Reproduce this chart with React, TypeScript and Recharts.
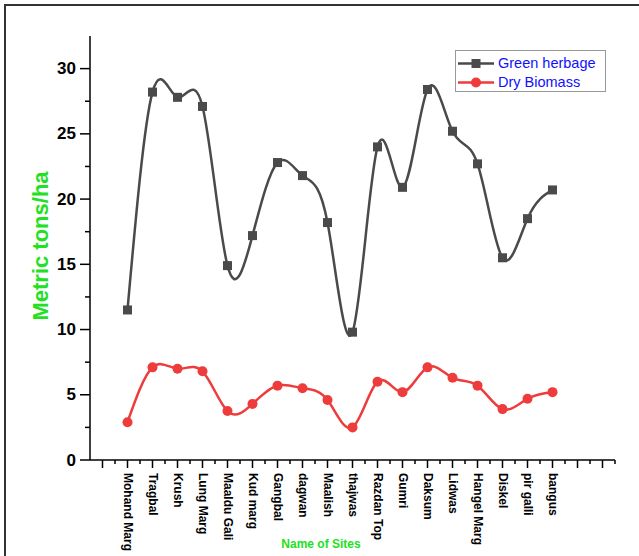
import React from 'react';
import { LineChart, Line, XAxis, YAxis, Legend } from 'recharts';

const sites = [
  'Mohand Marg', 'Tragbal', 'Krush', 'Lung Marg', 'Maaldu Gali', 'Kud marg',
  'Gangbal', 'dagwan', 'Maalish', 'thajwas', 'Razdan Top', 'Gumri', 'Daksum',
  'Lidwas', 'Hangel Marg', 'Diskel', 'pir galli', 'bangus',
];
const greenHerbage = [11.5, 28.2, 27.8, 27.1, 14.9, 17.2, 22.8, 21.8, 18.2, 9.8, 24.0, 20.9, 28.4, 25.2, 22.7, 15.5, 18.5, 20.7];
const dryBiomass = [2.9, 7.1, 7.0, 6.8, 3.75, 4.3, 5.7, 5.5, 4.6, 2.5, 6.0, 5.2, 7.1, 6.3, 5.7, 3.9, 4.7, 5.2];
const yTicks = [0, 2.5, 5, 7.5, 10, 12.5, 15, 17.5, 20, 22.5, 25, 27.5, 30];
const xTickList = [-1, -0.5, 0, 0.5, 1, 1.5, 2, 2.5, 3, 3.5, 4, 4.5, 5, 5.5, 6, 6.5, 7, 7.5, 8, 8.5, 9, 9.5, 10, 10.5, 11, 11.5, 12, 12.5, 13, 13.5, 14, 14.5, 15, 15.5, 16, 16.5, 17, 17.5, 18, 18.5, 19, 19.5];

const data = sites.map((s, i) => ({ idx: i, site: s, green: greenHerbage[i], dry: dryBiomass[i] }));

const FONT = '"Liberation Sans", Arial, sans-serif';
const GRAY = '#4a4a4a';
const RED = '#ee3b3b';
const BLUE = '#1010ff';
const LABEL_GREEN = '#22e022';

const XTick = (props: any) => {
  const { x, y, payload } = props;
  const v = payload.value;
  const major = Number.isInteger(v);
  const len = major ? 8 : 4;
  const label = major && v >= 0 && v < sites.length ? sites[v] : null;
  const ty = y + 13;
  return (
    <g>
      <line x1={x} y1={y} x2={x} y2={y + len} stroke="#000" strokeWidth={1.5} />
      {label && (
        <text
          x={x}
          y={ty}
          transform={`rotate(90, ${x}, ${ty})`}
          dominantBaseline="central"
          textAnchor="start"
          fontSize={12}
          fontWeight="bold"
          fontFamily={FONT}
          fill="#000"
        >
          {label}
        </text>
      )}
    </g>
  );
};

const YTick = (props: any) => {
  const { x, y, payload } = props;
  const v = payload.value;
  const major = v % 5 === 0;
  const len = major ? 10 : 5;
  return (
    <g>
      <line x1={x - len} y1={y} x2={x} y2={y} stroke="#000" strokeWidth={1.5} />
      {major && (
        <text
          x={x - 14}
          y={y}
          textAnchor="end"
          dominantBaseline="central"
          fontSize={17}
          fontWeight="bold"
          fontFamily={FONT}
          fill="#000"
        >
          {v}
        </text>
      )}
    </g>
  );
};

const SquareDot = (props: any) => {
  const { cx, cy, index } = props;
  return <rect key={`sq-${index}`} x={cx - 4.5} y={cy - 4.5} width={9} height={9} fill={GRAY} />;
};

const CircleDot = (props: any) => {
  const { cx, cy, index } = props;
  return <circle key={`ci-${index}`} cx={cx} cy={cy} r={5} fill={RED} />;
};

const LegendBox = () => {
  const rows = [
    { name: 'Green herbage', color: GRAY, shape: 'square' },
    { name: 'Dry Biomass', color: RED, shape: 'circle' },
  ];
  return (
    <div
      style={{
        width: 149,
        height: 40,
        border: '1px solid #999',
        background: '#fff',
        position: 'relative',
        fontFamily: FONT,
      }}
    >
      {rows.map((r, i) => (
        <div key={r.name} style={{ position: 'absolute', left: 0, top: 3 + i * 19, height: 19, width: 149 }}>
          <svg width={40} height={19} style={{ position: 'absolute', left: 0, top: 0 }}>
            <line x1={2} y1={9.5} x2={38} y2={9.5} stroke={r.color} strokeWidth={2.5} />
            {r.shape === 'square' ? (
              <rect x={15.5} y={5} width={9} height={9} fill={r.color} />
            ) : (
              <circle cx={20} cy={9.5} r={5} fill={r.color} />
            )}
          </svg>
          <span
            style={{
              position: 'absolute',
              left: 42,
              top: 0,
              lineHeight: '19px',
              fontSize: 14.5,
              color: BLUE,
              whiteSpace: 'nowrap',
            }}
          >
            {r.name}
          </span>
        </div>
      ))}
    </div>
  );
};

const YLabel = (props: any) => {
  const vb = props.viewBox || {};
  const cx = (vb.x || 0) + 40;
  const cy = (vb.y || 0) + (vb.height || 0) / 2 - 2;
  return (
    <text
      x={cx}
      y={cy}
      transform={`rotate(-90, ${cx}, ${cy})`}
      textAnchor="middle"
      dominantBaseline="central"
      fontSize={22}
      fontWeight="bold"
      fontFamily={FONT}
      fill={LABEL_GREEN}
    >
      Metric tons/ha
    </text>
  );
};

const XLabel = (props: any) => {
  const vb = props.viewBox || {};
  const cx = (vb.x || 0) + 231;
  const cy = (vb.y || 0) + 84;
  return (
    <text
      x={cx}
      y={cy}
      textAnchor="middle"
      dominantBaseline="central"
      fontSize={12}
      fontWeight="bold"
      fontFamily={FONT}
      fill={LABEL_GREEN}
    >
      Name of Sites
    </text>
  );
};

export default function App() {
  return (
    <div style={{ position: 'absolute', left: 0, top: 0, width: 639, height: 556, background: '#fff', overflow: 'hidden' }}>
      <div
        style={{
          position: 'absolute',
          left: 4,
          top: 4,
          right: -10,
          bottom: -10,
          borderTop: '2px solid #333',
          borderLeft: '2px solid #333',
        }}
      />
      <LineChart
        width={639}
        height={556}
        data={data}
        margin={{ top: 36, right: 24, left: 0, bottom: 6 }}
        style={{ position: 'absolute', left: 0, top: 0 }}
      >
        <XAxis
          dataKey="idx"
          type="number"
          domain={[-1.5, 19.5]}
          ticks={xTickList}
          interval={0}
          allowDataOverflow
          height={90}
          tickSize={0}
          tickMargin={0}
          tickLine={false}
          axisLine={{ stroke: '#000', strokeWidth: 1.5 }}
          tick={<XTick />}
          label={<XLabel />}
        />
        <YAxis
          type="number"
          domain={[0, 32.5]}
          ticks={yTicks}
          interval={0}
          allowDataOverflow
          width={90}
          tickSize={0}
          tickMargin={0}
          tickLine={false}
          axisLine={{ stroke: '#000', strokeWidth: 1.5 }}
          tick={<YTick />}
          label={<YLabel />}
        />
        <Legend
          layout="vertical"
          align="center"
          verticalAlign="middle"
          content={<LegendBox />}
          wrapperStyle={{ position: 'absolute', left: 455, top: 50, width: 151, height: 42 }}
        />
        <Line
          type="natural"
          dataKey="green"
          name="Green herbage"
          stroke={GRAY}
          strokeWidth={2.5}
          dot={SquareDot}
          activeDot={false}
          isAnimationActive={false}
        />
        <Line
          type="natural"
          dataKey="dry"
          name="Dry Biomass"
          stroke={RED}
          strokeWidth={2.5}
          dot={CircleDot}
          activeDot={false}
          isAnimationActive={false}
        />
      </LineChart>
    </div>
  );
}
